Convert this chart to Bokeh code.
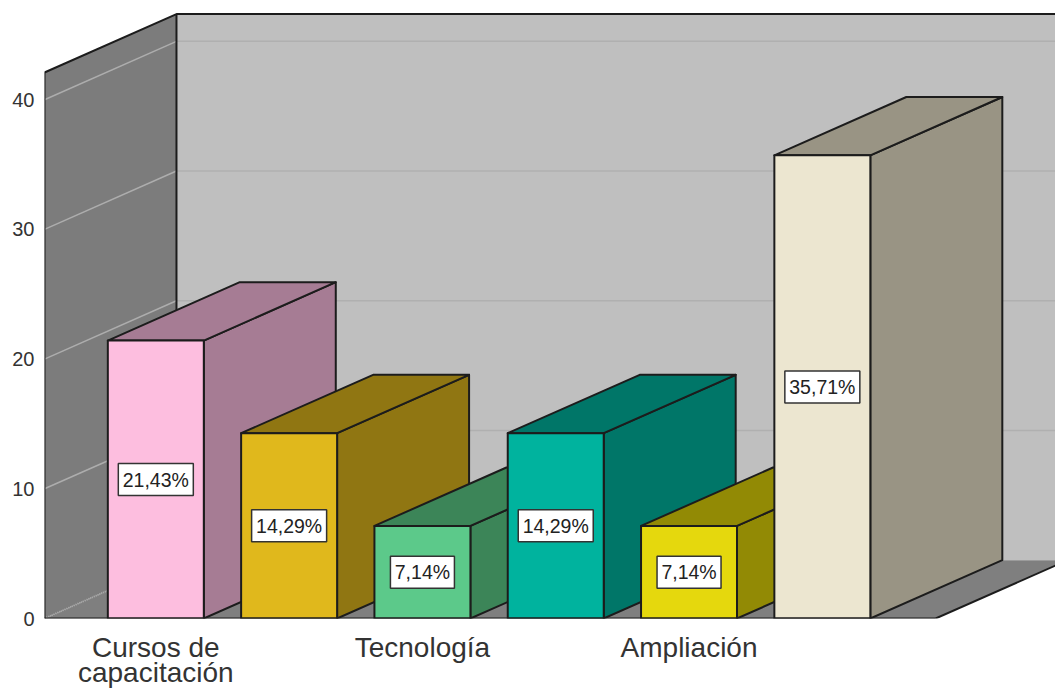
from bokeh.plotting import figure
from bokeh.embed import file_html
from bokeh.resources import INLINE
from bokeh.models import Range1d, FixedTicker, ColumnDataSource, LinearAxis
from bokeh.core.properties import value

categories = ["Cursos de\ncapacitación", "", "Tecnología", "", "Ampliación", ""]
values = [21.43, 14.29, 7.14, 14.29, 7.14, 35.71]
labels = ["21,43%", "14,29%", "7,14%", "14,29%", "7,14%", "35,71%"]
front_colors = ["#FDBEDF", "#E0B81C", "#5CC98A", "#00B39E", "#E5D80D", "#ECE6D0"]
side_colors = ["#A67C94", "#907612", "#3C8558", "#007668", "#928A05", "#999484"]
y_ticks = [0, 10, 20, 30, 40]

WALL_TOP = 42.1
DX = 0.99
DY = 4.5
BW = 0.36
X_LO = -0.835
X_HI = 6.84
Y_TOP = 47.65
LINE = "#1c1c1c"

p = figure(width=1055, height=690, output_backend="svg", toolbar_location=None,
           x_range=Range1d(X_LO, 6.749), y_range=Range1d(0, Y_TOP),
           min_border_left=44, min_border_right=0, min_border_top=0, min_border_bottom=72,
           outline_line_color=None, background_fill_color="white", border_fill_color="white",
           styles={"position": "absolute", "left": "0px", "top": "0px"})
p.grid.visible = False

# walls and floor
p.patch([X_LO, X_LO, X_LO + DX, X_LO + DX], [0, WALL_TOP, WALL_TOP + DY, DY],
        fill_color="#7C7C7C", line_color=None)
p.patch([X_LO + DX, X_LO + DX, X_HI + 2 * DX, X_HI + 2 * DX], [DY, WALL_TOP + DY, WALL_TOP + DY, DY],
        fill_color="#BFBFBF", line_color=None)
p.patch([X_LO, X_LO + DX, X_HI, X_HI - DX], [0, DY, DY, 0],
        fill_color="#7F7F7F", line_color=None)

# grid lines
for t in y_ticks[1:]:
    p.line([X_LO, X_LO + DX], [t, t + DY], line_color="#ADADAD", line_width=1.5)
    p.line([X_LO + DX, X_HI + 2 * DX], [t + DY, t + DY], line_color="#B0B0B0", line_width=1.5)
p.line([X_LO, X_LO + DX], [0, DY], line_color="#A8A8A8", line_width=2, line_dash="1 1")

# wall edges
p.line([X_LO, X_LO, X_LO + DX, X_HI + 2 * DX], [0, WALL_TOP, WALL_TOP + DY, WALL_TOP + DY],
       line_color=LINE, line_width=2)
p.line([X_LO + DX, X_LO + DX], [DY, WALL_TOP + DY], line_color=LINE, line_width=2)
p.line([X_HI - DX, X_HI], [0, DY], line_color=LINE, line_width=2)

# bars, left to right
for i, v in enumerate(values):
    l, r = i - BW, i + BW
    p.patch([r, r + DX, r + DX, r], [0, DY, v + DY, v], fill_color=side_colors[i],
            line_color=LINE, line_width=2, line_join="round")
    p.patch([l, l + DX, r + DX, r], [v, v + DY, v + DY, v], fill_color=side_colors[i],
            line_color=LINE, line_width=2, line_join="round")
    p.patch([l, l, r, r], [0, v, v, 0], fill_color=front_colors[i],
            line_color=LINE, line_width=2, line_join="round")

# baseline
p.line([X_LO, X_HI - DX], [0, 0], line_color=LINE, line_width=2)

# value labels
src = ColumnDataSource(dict(
    x=list(range(len(values))), y=[v / 2 for v in values], t=labels,
    w=[75 if len(s) == 6 else 64 for s in labels]))
p.rect("x", "y", width="w", height=32, width_units="screen", height_units="screen", source=src,
       fill_color="white", line_color="#333333", line_width=1.5)
p.text("x", "y", text="t", source=src, text_align="center", text_baseline="middle",
       text_font=value("Liberation Sans"), text_font_size="19.5px", text_color="#222222")

# axes: one per wrapped line of the category labels
def style_x(axis, ticks, overrides, standoff):
    axis.ticker = FixedTicker(ticks=ticks)
    axis.major_label_overrides = overrides
    axis.axis_line_color = None
    axis.major_tick_line_color = None
    axis.minor_tick_line_color = None
    axis.major_label_standoff = standoff
    axis.major_label_text_font = "Liberation Sans"
    axis.major_label_text_font_size = "28px"
    axis.major_label_text_color = "#333333"

style_x(p.xaxis[0], list(range(len(categories))),
        {i: c.split("\n")[0] for i, c in enumerate(categories)}, 7)

wrapped = {i: c.split("\n")[1] for i, c in enumerate(categories) if "\n" in c}
xa2 = LinearAxis()
style_x(xa2, list(wrapped), wrapped, -15)
p.add_layout(xa2, "below")

ya = p.yaxis[0]
ya.ticker = FixedTicker(ticks=y_ticks)
ya.axis_line_color = None
ya.major_tick_line_color = None
ya.minor_tick_line_color = None
ya.major_label_standoff = 4
ya.major_label_text_font = "Liberation Sans"
ya.major_label_text_font_size = "20px"
ya.major_label_text_color = "#333333"

open("out.html", "w").write(file_html(p, INLINE))
